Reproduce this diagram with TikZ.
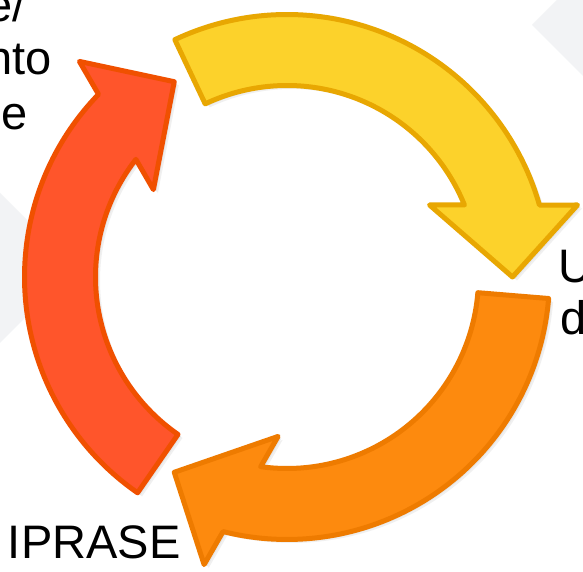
\documentclass[tikz,border=0pt]{standalone}
\usepackage{fontspec}
\setmainfont{Liberation Sans}
\definecolor{bggray}{HTML}{F2F3F5}
\definecolor{yelfill}{HTML}{FCD22B}
\definecolor{yeldraw}{HTML}{E8A702}
\definecolor{redfill}{HTML}{FF552B}
\definecolor{reddraw}{HTML}{F05000}
\definecolor{orafill}{HTML}{FD8A0E}
\definecolor{oradraw}{HTML}{EE7B00}
\tikzset{
  arrowbody/.style={line width=5pt, line join=round},
  shadowbody/.style={fill=black!#1, draw=none},
  lbl/.style={inner sep=0pt, outer sep=0pt, font=\fontsize{47}{55}\selectfont},
  bgshape/.style={fill=bggray, draw=none}
}
\newcommand{\cyclearrowpath}{%
  (115.3:262.5) arc[start angle=115.3, end angle=15.9, radius=262.5]
  -- (290.5,72) -- (225.5,0) -- (142.5,72) -- (22.1:191.5)
  arc[start angle=22.1, end angle=115.3, radius=191.5] -- cycle}
\begin{document}
\begin{tikzpicture}[x=1pt, y=1pt]
\clip (0,0) rectangle (583,572);
\fill[white] (0,0) rectangle (583,572);
% background diamonds
\path[bgshape] (532,547) -- (632,647) -- (732,547) -- (632,447) -- cycle;
\path[bgshape] (75,304) -- (-25,404) -- (-125,304) -- (-25,204) -- cycle;
% soft shadows
\begin{scope}[shift={(291.5,291.5)}]
  \foreach \r in {0,120,240} {
    \path[shadowbody=6, rotate=\r] \cyclearrowpath;
  }
\end{scope}
\begin{scope}[shift={(290,293)}]
  \foreach \r in {0,120,240} {
    \path[shadowbody=10, rotate=\r] \cyclearrowpath;
  }
\end{scope}
% arrows
\begin{scope}[shift={(287,295)}]
  \path[arrowbody, fill=yelfill, draw=yeldraw] \cyclearrowpath;
  \path[arrowbody, fill=redfill, draw=reddraw, rotate=120] \cyclearrowpath;
  \path[arrowbody, fill=orafill, draw=oradraw, rotate=240] \cyclearrowpath;
\end{scope}
% labels
\node[lbl, anchor=base east] (t1) at (25.5,550) {e/};
\node[lbl, anchor=base east] (t2) at (51.5,497) {nto};
\node[lbl, anchor=base east] (t3) at (27.5,442) {e};
\node[lbl, anchor=base west] (t4) at (8,13) {IPRASE};
\node[lbl, anchor=base west] (t5) at (558.3,289) {U};
\node[lbl, anchor=base west] (t6) at (560.4,237) {d};
\end{tikzpicture}
\end{document}
